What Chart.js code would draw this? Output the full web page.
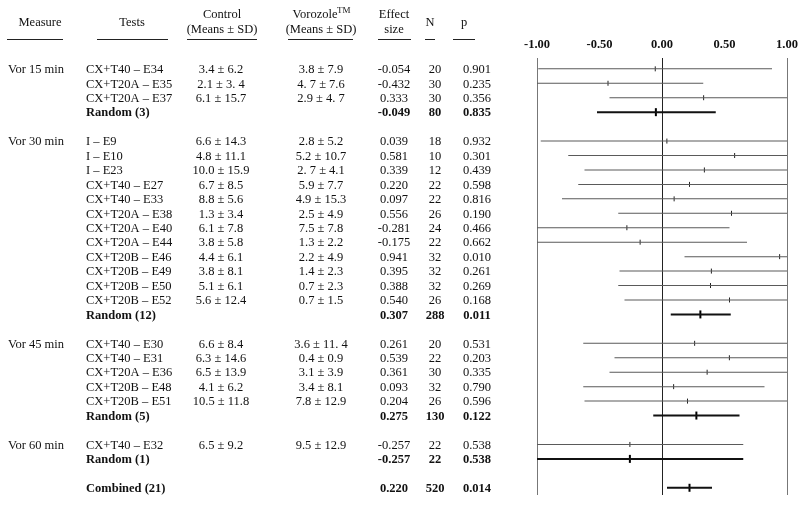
<!DOCTYPE html>
<html>
<head>
<meta charset="utf-8">
<script src="https://cdn.jsdelivr.net/npm/chart.js@4/dist/chart.umd.min.js"></script>
<style>
html, body { margin: 0; padding: 0; background: #fff; }
</style>
</head>
<body>
<canvas id="forest" width="800" height="505"></canvas>
<script>
// one entry per row of the plot, '' = blank spacer row
var tests = ['CX+T40 \u2013 E34', 'CX+T20A \u2013 E35', 'CX+T20A \u2013 E37', 'Random (3)', '',
    'I \u2013 E9', 'I \u2013 E10', 'I \u2013 E23', 'CX+T40 \u2013 E27', 'CX+T40 \u2013 E33',
    'CX+T20A \u2013 E38', 'CX+T20A \u2013 E40', 'CX+T20A \u2013 E44', 'CX+T20B \u2013 E46',
    'CX+T20B \u2013 E49', 'CX+T20B \u2013 E50', 'CX+T20B \u2013 E52', 'Random (12)', '',
    'CX+T40 \u2013 E30', 'CX+T40 \u2013 E31', 'CX+T20A \u2013 E36', 'CX+T20B \u2013 E48',
    'CX+T20B \u2013 E51', 'Random (5)', '',
    'CX+T40 \u2013 E32', 'Random (1)', '',
    'Combined (21)'];
var control = ['3.4 \u00b1 6.2', '2.1 \u00b1 3. 4', '6.1 \u00b1 15.7', '', '',
    '6.6 \u00b1 14.3', '4.8 \u00b1 11.1', '10.0 \u00b1 15.9', '6.7 \u00b1 8.5', '8.8 \u00b1 5.6',
    '1.3 \u00b1 3.4', '6.1 \u00b1 7.8', '3.8 \u00b1 5.8', '4.4 \u00b1 6.1',
    '3.8 \u00b1 8.1', '5.1 \u00b1 6.1', '5.6 \u00b1 12.4', '', '',
    '6.6 \u00b1 8.4', '6.3 \u00b1 14.6', '6.5 \u00b1 13.9', '4.1 \u00b1 6.2', '10.5 \u00b1 11.8', '', '',
    '6.5 \u00b1 9.2', '', '', ''];
var vorozole = ['3.8 \u00b1 7.9', '4. 7 \u00b1 7.6', '2.9 \u00b1 4. 7', '', '',
    '2.8 \u00b1 5.2', '5.2 \u00b1 10.7', '2. 7 \u00b1 4.1', '5.9 \u00b1 7.7', '4.9 \u00b1 15.3',
    '2.5 \u00b1 4.9', '7.5 \u00b1 7.8', '1.3 \u00b1 2.2', '2.2 \u00b1 4.9',
    '1.4 \u00b1 2.3', '0.7 \u00b1 2.3', '0.7 \u00b1 1.5', '', '',
    '3.6 \u00b1 11. 4', '0.4 \u00b1 0.9', '3.1 \u00b1 3.9', '3.4 \u00b1 8.1', '7.8 \u00b1 12.9', '', '',
    '9.5 \u00b1 12.9', '', '', ''];
var effect = [-0.054, -0.432, 0.333, -0.049, null,
    0.039, 0.581, 0.339, 0.220, 0.097, 0.556, -0.281, -0.175, 0.941, 0.395, 0.388, 0.540, 0.307, null,
    0.261, 0.539, 0.361, 0.093, 0.204, 0.275, null,
    -0.257, -0.257, null,
    0.220];
var nTotal = [20, 30, 30, 80, null,
    18, 10, 12, 22, 22, 26, 24, 22, 32, 32, 32, 26, 288, null,
    20, 22, 30, 32, 26, 130, null,
    22, 22, null,
    520];
var pValue = [0.901, 0.235, 0.356, 0.835, null,
    0.932, 0.301, 0.439, 0.598, 0.816, 0.190, 0.466, 0.662, 0.010, 0.261, 0.269, 0.168, 0.011, null,
    0.531, 0.203, 0.335, 0.790, 0.596, 0.122, null,
    0.538, 0.538, null,
    0.014];
// confidence limits (ends past +-1 estimated)
var ciLower = [-0.99, -1.19, -0.42, -0.52, null,
    -0.97, -0.75, -0.62, -0.67, -0.80, -0.35, -1.10, -1.03, 0.18, -0.34, -0.35, -0.30, 0.07, null,
    -0.63, -0.38, -0.42, -0.63, -0.62, -0.07, null,
    -1.16, -1.16, null,
    0.04];
var ciUpper = [0.88, 0.33, 1.09, 0.43, null,
    1.05, 1.91, 1.30, 1.11, 1.00, 1.46, 0.54, 0.68, 1.70, 1.13, 1.13, 1.38, 0.55, null,
    1.15, 1.46, 1.14, 0.82, 1.03, 0.62, null,
    0.65, 0.65, null,
    0.40];
var measureNames = ['Vor 15 min', 'Vor 30 min', 'Vor 45 min', 'Vor 60 min'];
var measureRows = [0, 5, 19, 26];
var axisTicks = [-1, -0.5, 0, 0.5, 1];

var FONT = "'Liberation Serif', 'Times New Roman', serif";

function isPooled(i) {
    return /^(Random|Combined)/.test(tests[i]);
}

function segments(pooled) {
    var out = [];
    for (let i = 0; i < tests.length; i++) {
        if (effect[i] === null || isPooled(i) !== pooled) continue;
        out.push({x: [ciLower[i], ciUpper[i]], y: i});
    }
    return out;
}

function markers(pooled) {
    var out = [];
    for (let i = 0; i < tests.length; i++) {
        if (effect[i] === null || isPooled(i) !== pooled) continue;
        out.push({x: effect[i], y: i});
    }
    return out;
}

// left hand table, drawn on the same canvas and lined up with the y scale
var tablePlugin = {
    id: 'tableText',
    afterDraw: function(chart) {
        var ctx = chart.ctx;
        var yScale = chart.scales.y;
        ctx.save();
        ctx.fillStyle = '#111';
        ctx.textBaseline = 'middle';
        ctx.font = '12.5px ' + FONT;
        ctx.textAlign = 'center';

        ctx.fillText('Measure', 40, 23);
        ctx.fillText('Tests', 132, 23);
        ctx.fillText('Control', 222, 15);
        ctx.fillText('(Means \u00b1 SD)', 222, 30);
        ctx.fillText('Vorozole', 315, 15);
        ctx.font = '9px ' + FONT;
        ctx.textAlign = 'left';
        ctx.fillText('TM', 337, 11);
        ctx.font = '12.5px ' + FONT;
        ctx.textAlign = 'center';
        ctx.fillText('(Means \u00b1 SD)', 321, 30);
        ctx.fillText('Effect', 394, 15);
        ctx.fillText('size', 394, 30);
        ctx.fillText('N', 430, 23);
        ctx.fillText('p', 464, 23);

        ctx.strokeStyle = '#222';
        ctx.lineWidth = 1;
        var rules = [[7, 63], [97, 168], [187, 257], [288, 353], [378, 411], [425, 435], [453, 475]];
        rules.forEach(function(r) {
            ctx.beginPath();
            ctx.moveTo(r[0], 39.5);
            ctx.lineTo(r[1], 39.5);
            ctx.stroke();
        });

        ctx.textAlign = 'left';
        for (let m = 0; m < measureNames.length; m++) {
            ctx.fillText(measureNames[m], 8, yScale.getPixelForValue(measureRows[m]) + 1);
        }

        for (let i = 0; i < tests.length; i++) {
            if (!tests[i]) continue;
            var py = yScale.getPixelForValue(i) + 1;
            var bold = isPooled(i);
            ctx.font = (bold ? 'bold ' : '') + '12.5px ' + FONT;
            ctx.textAlign = 'left';
            ctx.fillText(tests[i], 86, py);
            ctx.textAlign = 'center';
            ctx.font = '12.5px ' + FONT;
            if (control[i]) ctx.fillText(control[i], 221, py);
            if (vorozole[i]) ctx.fillText(vorozole[i], 321, py);
            ctx.font = (bold ? 'bold ' : '') + '12.5px ' + FONT;
            ctx.fillText(effect[i].toFixed(3), 394, py);
            ctx.fillText(String(nTotal[i]), 435, py);
            ctx.fillText(pValue[i].toFixed(3), 477, py);
        }
        ctx.restore();
    }
};

var chart = new Chart(document.getElementById('forest'), {
    type: 'bar',
    data: {
        datasets: [
            {
                type: 'bar', data: segments(false), grouped: false,
                backgroundColor: '#5a5a5a', borderWidth: 0, maxBarThickness: 1, clip: 0
            },
            {
                type: 'bar', data: segments(true), grouped: false,
                backgroundColor: '#111', borderWidth: 0, maxBarThickness: 2, clip: 0
            },
            {
                type: 'scatter', data: markers(false), pointStyle: 'line', rotation: 90,
                pointRadius: 2.5, borderColor: '#222', borderWidth: 1, clip: 0
            },
            {
                type: 'scatter', data: markers(true), pointStyle: 'line', rotation: 90,
                pointRadius: 4, borderColor: '#000', borderWidth: 2, clip: 0
            }
        ]
    },
    options: {
        indexAxis: 'y',
        responsive: false,
        animation: false,
        layout: { padding: { left: 537, right: 13, top: 0, bottom: 10 } },
        scales: {
            x: {
                type: 'linear',
                position: 'top',
                offset: false,
                min: -1,
                max: 1,
                afterBuildTicks: function(scale) {
                    scale.ticks = axisTicks.map(function(v) { return {value: v}; });
                },
                afterFit: function(scale) {
                    scale.height = 58;
                    scale.paddingLeft = 0;
                    scale.paddingRight = 0;
                },
                ticks: {
                    padding: 6,
                    color: '#111',
                    font: { family: FONT, size: 12.5, weight: 'bold' },
                    callback: function(v) { return Number(v).toFixed(2); }
                },
                grid: {
                    offset: false,
                    drawTicks: false,
                    lineWidth: 1,
                    color: function(c) {
                        if (!c.tick) return 'rgba(0,0,0,0)';
                        if (c.tick.value === 0) return '#222';
                        if (Math.abs(c.tick.value) === 1) return '#777';
                        return 'rgba(0,0,0,0)';
                    }
                },
                border: { display: false }
            },
            y: {
                type: 'linear',
                reverse: true,
                offset: false,
                min: -0.75,
                max: 29.5,
                grid: { offset: false },
                display: false
            }
        },
        plugins: {
            legend: { display: false },
            tooltip: { enabled: false }
        }
    },
    plugins: [tablePlugin]
});
</script>
</body>
</html>
